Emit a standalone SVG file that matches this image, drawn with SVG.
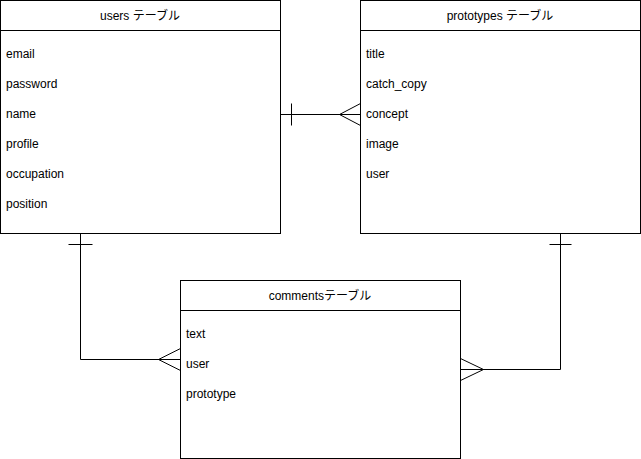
<svg xmlns="http://www.w3.org/2000/svg" width="641" height="459" viewBox="0 0 641 459">
<style>
.box{fill:#fff;stroke:#000;stroke-width:1}
.ln{fill:none;stroke:#000;stroke-width:1}
.t{font-family:"Liberation Sans","Noto Sans CJK JP",sans-serif;font-size:12px;fill:#000}
.h{text-anchor:middle}
</style>
<rect width="641" height="459" fill="#fff"/>
<g id="connectors">
<path class="ln" d="M280.5 114.5H360.5"/>
<path class="ln" d="M291.5 103.5V125.5"/>
<path class="ln" d="M360.5 103.5L339.5 114.5L360.5 125.5"/>
<path class="ln" d="M80.5 234V359.5H180.5"/>
<path class="ln" d="M68.5 244.5H92.5"/>
<path class="ln" d="M180.5 348.5L158.5 359.5L180.5 370.5"/>
<path class="ln" d="M560.5 234V369.5H460.5"/>
<path class="ln" d="M549.5 244.5H571.5"/>
<path class="ln" d="M460.5 358.5L483.5 369.5L460.5 380.5"/>
</g>
<g id="users">
<rect class="box" x="0.5" y="0.5" width="280" height="233"/>
<path class="ln" d="M0.5 30.5H280.5"/>
<text class="t h" x="140" y="19.5">users テーブル</text>
<text class="t" x="6" y="58">email</text>
<text class="t" x="6" y="88">password</text>
<text class="t" x="6" y="118">name</text>
<text class="t" x="6" y="148">profile</text>
<text class="t" x="6" y="178">occupation</text>
<text class="t" x="6" y="208">position</text>
</g>
<g id="prototypes">
<rect class="box" x="360.5" y="0.5" width="280" height="233"/>
<path class="ln" d="M360.5 30.5H640.5"/>
<text class="t h" x="500" y="19.5">prototypes テーブル</text>
<text class="t" x="366" y="58">title</text>
<text class="t" x="366" y="88">catch_copy</text>
<text class="t" x="366" y="118">concept</text>
<text class="t" x="366" y="148">image</text>
<text class="t" x="366" y="178">user</text>
</g>
<g id="comments">
<rect class="box" x="180.5" y="280.5" width="280" height="178"/>
<path class="ln" d="M180.5 310.5H460.5"/>
<text class="t h" x="320" y="299.5">commentsテーブル</text>
<text class="t" x="186" y="338">text</text>
<text class="t" x="186" y="368">user</text>
<text class="t" x="186" y="398">prototype</text>
</g>
</svg>
